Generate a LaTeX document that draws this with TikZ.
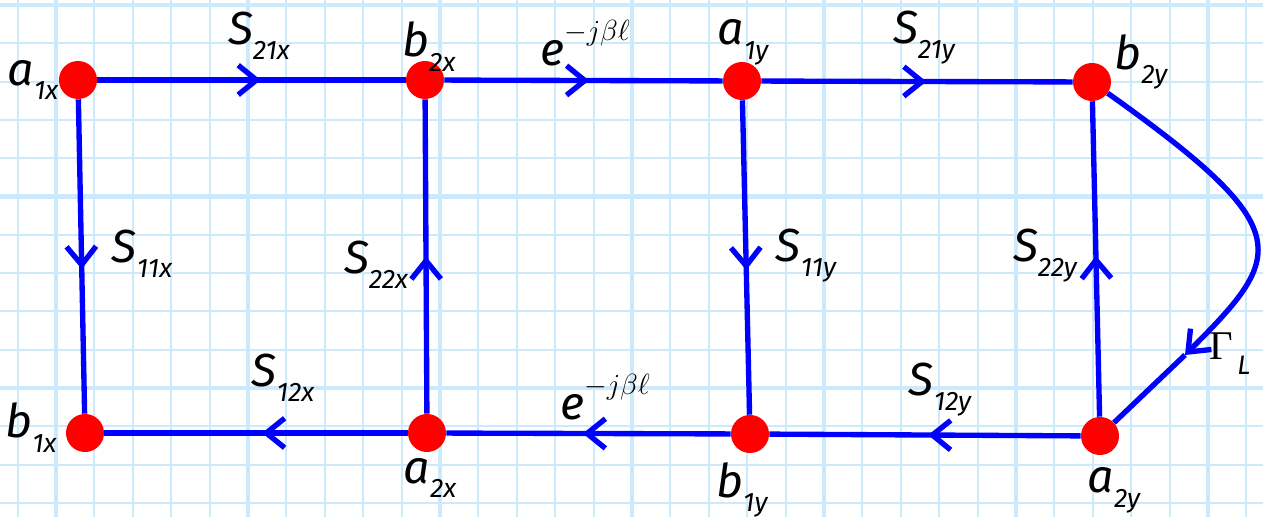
\documentclass[tikz,border=0pt]{standalone}
\usepackage{amsmath}
\usepackage{fontspec}
\usepackage{tikz}
\usetikzlibrary{arrows.meta,decorations.markings}

\newfontfamily\lblfont{Fira Sans}
\newfontfamily\grkfont{Liberation Serif}
\definecolor{gridblue}{RGB}{204,234,252}
\definecolor{wireblue}{RGB}{0,0,255}
\definecolor{dotred}{RGB}{255,0,0}
% letter with lowered index
\newcommand{\lb}[2]{#1\raisebox{-0.32em}{\fontsize{19}{19}\selectfont #2}}

\tikzset{
  minorgrid/.style={gridblue,line width=1.4pt},
  majorgrid/.style={gridblue,line width=3.2pt},
  port/.style={circle,fill=dotred,inner sep=0pt,minimum size=0.95cm},
  wire/.style={wireblue,line width=3.8pt},
  barb/.tip={Straight Barb[length=13pt,width=21pt]},
  midarrow/.style={postaction={decorate,decoration={markings,
      mark=at position #1 with {\arrow{barb}}}}},
  midarrow/.default=0.52,
  lbl/.style={font=\lblfont\itshape\fontsize{33}{36}\selectfont,inner sep=0pt}
}

\begin{document}
\begin{tikzpicture}[x=0.025cm,y=-0.025cm]
  \useasboundingbox[fill=white] (0,0) rectangle (1263,517);
  % paper grid
  \foreach \i in {-1,...,31}
    \draw[minorgrid] ({56+38.4*\i},0) -- ({56+38.4*\i},517);
  \foreach \i in {0,...,13}
    \draw[minorgrid] (0,{5+38.3*\i}) -- (1263,{5+38.3*\i});
  \foreach \i in {0,...,6}
    \draw[majorgrid] ({56+192*\i},0) -- ({56+192*\i},517);
  \foreach \i in {0,1,2}
    \draw[majorgrid] (0,{5+191.5*\i}) -- (1263,{5+191.5*\i});

  % ports
  \node[port] (a1x) at (78,80) {};
  \node[port] (b2x) at (425,80) {};
  \node[port] (a1y) at (742,81) {};
  \node[port] (b2y) at (1092,82) {};
  \node[port] (b1x) at (85,433) {};
  \node[port] (a2x) at (427,433) {};
  \node[port] (b1y) at (750,434) {};
  \node[port] (a2y) at (1100,436) {};
  \coordinate (gL) at (1185,355);

  % branches
  \draw[wire,midarrow=0.53] (a1x) -- (b2x);
  \draw[wire,midarrow=0.52] (b2x) -- (a1y);
  \draw[wire,midarrow=0.53] (a1y) -- (b2y);
  \draw[wire,midarrow=0.54] (a1x) -- (b1x);
  \draw[wire,midarrow=0.50] (a2x) -- (b2x);
  \draw[wire,midarrow=0.54] (a1y) -- (b1y);
  \draw[wire,midarrow=0.51] (a2y) -- (b2y);
  \draw[wire,midarrow=0.49] (a2y) -- (b1y);
  \draw[wire,midarrow=0.52] (b1y) -- (a2x);
  \draw[wire,midarrow=0.48] (a2x) -- (b1x);
  \draw[wire,-barb] (b2y) .. controls (1300,230) and (1285,255) .. (gL);
  \draw[wire] (gL) -- (a2y);

  % labels
  \node[lbl] at (33,80) {\lb{a}{1x}};
  \node[lbl] at (259,36) {\lb{S}{21x}};
  \node[lbl] at (429,47) {\lb{b}{2x}};
  \node[lbl] at (585,43) {e\raisebox{0.55em}{\fontsize{20}{20}\selectfont$-j\beta\ell$}};
  \node[lbl] at (743,42) {\lb{a}{1y}};
  \node[lbl] at (924,38) {\lb{S}{21y}};
  \node[lbl] at (1141,62) {\lb{b}{2y}};
  \node[lbl] at (142,254) {\lb{S}{11x}};
  \node[lbl] at (376,265) {\lb{S}{22x}};
  \node[lbl] at (806,256) {\lb{S}{11y}};
  \node[lbl] at (1045,256) {\lb{S}{22y}};
  \node[lbl] at (1230,354) {\lb{{\grkfont\upshape\fontsize{29}{29}\selectfont Γ}}{\,L}};
  \node[lbl] at (283,378) {\lb{S}{12x}};
  \node[lbl] at (605,397) {e\raisebox{0.55em}{\fontsize{20}{20}\selectfont$-j\beta\ell$}};
  \node[lbl] at (940,390) {\lb{S}{12y}};
  \node[lbl] at (31,428) {\lb{b}{1x}};
  \node[lbl] at (430,478) {\lb{a}{2x}};
  \node[lbl] at (742,490) {\lb{b}{1y}};
  \node[lbl] at (1114,490) {\lb{a}{2y}};
\end{tikzpicture}
\end{document}
